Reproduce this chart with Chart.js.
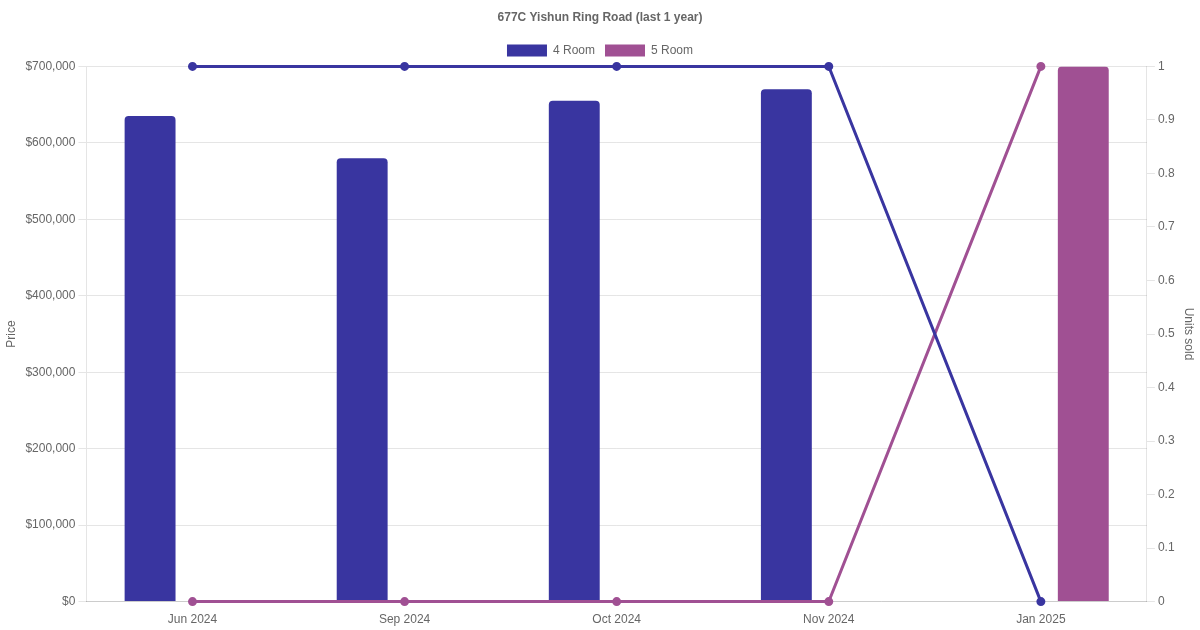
<!doctype html>
<html>
<head>
	<title>677C Yishun Ring Road</title>
	<script src="https://cdn.jsdelivr.net/npm/chart.js@4/dist/chart.umd.min.js"></script>
	<style>
		body { margin: 0; background: #fff; }
		#holder { width: 1200px; height: 630px; }
	</style>
</head>
<body>
	<div id="holder">
		<canvas id="chart-area"></canvas>
	</div>
	<script>
		var months = ['Jun 2024', 'Sep 2024', 'Oct 2024', 'Nov 2024', 'Jan 2025'];
		var price4Room = [635000, 580000, 655000, 670000, null];
		var price5Room = [null, null, null, null, 700000];
		var units4Room = [1, 1, 1, 1, 0];
		var units5Room = [0, 0, 0, 0, 1];

		var blue = 'rgb(57, 53, 160)';
		var purple = 'rgb(160, 80, 147)';

		Chart.defaults.font.family = '"Liberation Sans", Arial, sans-serif';
		Chart.defaults.font.size = 12;
		Chart.defaults.color = '#666';

		var config = {
			type: 'bar',
			data: {
				labels: months,
				datasets: [{
					type: 'line',
					label: '4 Room units',
					data: units4Room,
					yAxisID: 'y1',
					borderColor: blue,
					backgroundColor: blue,
					borderWidth: 3,
					pointRadius: 3,
					fill: false,
					clip: false,
					tension: 0
				}, {
					type: 'line',
					label: '5 Room units',
					data: units5Room,
					yAxisID: 'y1',
					borderColor: purple,
					backgroundColor: purple,
					borderWidth: 3,
					pointRadius: 3,
					fill: false,
					clip: false,
					tension: 0
				}, {
					label: '4 Room',
					data: price4Room,
					yAxisID: 'y',
					backgroundColor: blue,
					borderRadius: 4,
					barPercentage: 0.6,
					categoryPercentage: 0.8
				}, {
					label: '5 Room',
					data: price5Room,
					yAxisID: 'y',
					backgroundColor: purple,
					borderRadius: 4,
					barPercentage: 0.6,
					categoryPercentage: 0.8
				}]
			},
			options: {
				responsive: true,
				maintainAspectRatio: false,
				animation: false,
				plugins: {
					title: {
						display: true,
						text: '677C Yishun Ring Road (last 1 year)',
						font: { weight: 'bold', size: 12 }
					},
					legend: {
						labels: {
							filter: function(item) {
								return item.text === '4 Room' || item.text === '5 Room';
							}
						}
					}
				},
				scales: {
					x: {
						grid: { display: false },
						border: { color: '#ccc' }
					},
					y: {
						position: 'left',
						min: 0,
						max: 700000,
						ticks: {
							stepSize: 100000,
							callback: function(v) { return '$' + v.toLocaleString('en-US'); }
						},
						title: { display: true, text: 'Price' }
					},
					y1: {
						position: 'right',
						min: 0,
						max: 1,
						ticks: {
							stepSize: 0.1,
							callback: function(v) { return String(Math.round(v * 10) / 10); }
						},
						grid: { drawOnChartArea: false },
						title: { display: true, text: 'Units sold' }
					}
				}
			}
		};

		window.onload = function() {
			var ctx = document.getElementById('chart-area').getContext('2d');
			window.myChart = new Chart(ctx, config);
		};
	</script>
</body>
</html>
